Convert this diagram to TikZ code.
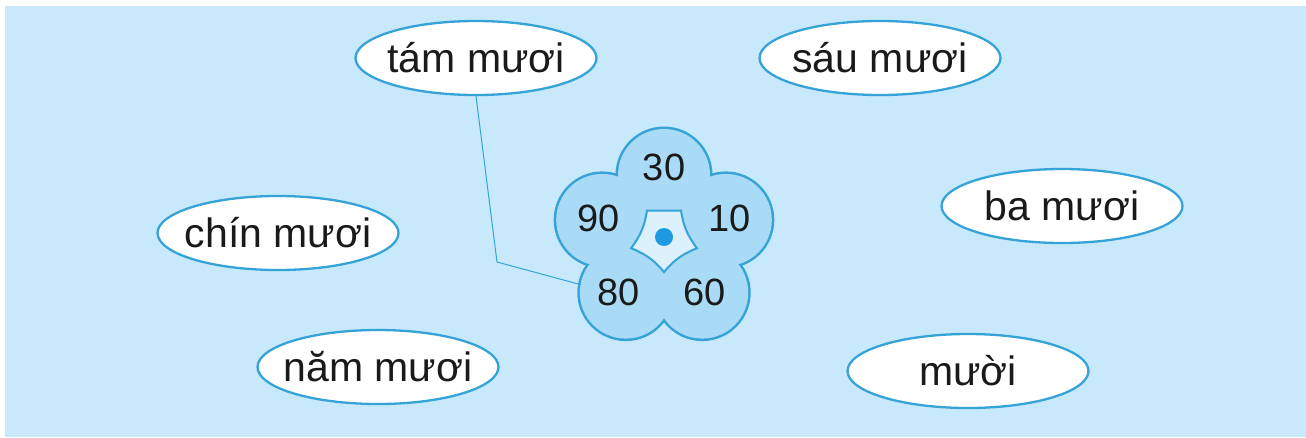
\documentclass[tikz,border=0pt]{standalone}
\usepackage{fontspec}
\setmainfont{Liberation Sans}
\usetikzlibrary{shapes.geometric}
\definecolor{bgblue}{HTML}{C8E9FB}
\definecolor{lineblue}{HTML}{35A3D8}
\definecolor{petalfill}{HTML}{AADBF6}
\definecolor{innerfill}{HTML}{DDF1FC}
\definecolor{dotblue}{HTML}{1E9BE0}
\definecolor{txt}{HTML}{1A1A1A}
\newcommand{\zw}[1]{\makebox[0pt]{#1}}
\tikzset{
  ellip/.style={ellipse, draw=lineblue, line width=2.3pt, fill=white,
    minimum width=241pt, minimum height=74pt, inner sep=0pt,
    font=\fontsize{41}{44}\selectfont, text=txt},
  petal/.style={circle, minimum size=92pt, inner sep=0pt},
  numtxt/.style={font=\fontsize{38}{42}\selectfont, text=txt},
  conn/.style={draw=lineblue, line width=1pt}
}
\begin{document}
\begin{tikzpicture}[x=1pt,y=-1pt]
\useasboundingbox (0,0) rectangle (1306,437);
\fill[bgblue] (5,6) rectangle (1306,437);

% ellipses
\node[ellip] (tam) at (476,58) {\zw{tám mươi}};
\node[ellip] (sau) at (880,58) {\zw{sáu mươi}};
\node[ellip] (chin) at (278,233) {\zw{chín mươi}};
\node[ellip] (ba) at (1062,206) {\zw{ba mươi}};
\node[ellip] (nam) at (378,367) {\zw{năm mươi}};
\node[ellip] (muoi) at (968,371) {\zw{mười}};

% flower
\coordinate (fc) at (664,240);
\foreach \n/\a in {p30/90,p10/18,p60/-54,p80/-126,p90/162}{
  \node[petal] (\n) at ([shift={(\a:65pt)}]fc) {};
}
\foreach \n in {p30,p10,p60,p80,p90}{
  \draw[lineblue, line width=5pt] (\n.center) circle (46pt);
}
\foreach \n in {p30,p10,p60,p80,p90}{
  \fill[petalfill] (\n.center) circle (46pt);
}
\fill[petalfill] (fc) circle (56pt);

% inner concave pentagon
\draw[lineblue, line width=2pt, fill=innerfill, line join=miter]
  ([shift={(120:34pt)}]fc) -- ([shift={(60:34pt)}]fc)
  to[bend right=14] ([shift={(-14:34pt)}]fc)
  to[bend right=14] ([shift={(-90:32pt)}]fc)
  to[bend right=14] ([shift={(194:34pt)}]fc)
  to[bend right=14] cycle;
\fill[dotblue] (fc) ++(0,-3) circle (9pt);

% numbers
\node[numtxt] (t30) at ([shift={(0,-8)}]p30) {30};
\node[numtxt] (t10) at ([shift={(4,-2)}]p10) {10};
\node[numtxt] (t60) at ([shift={(2,0)}]p60) {60};
\node[numtxt] (t80) at ([shift={(-7,0)}]p80) {80};
\node[numtxt] (t90) at ([shift={(-4,-2)}]p90) {90};

% connector
\coordinate (bend) at (497,262);
\draw[conn] (tam.south) -- (bend) -- (p80.170);
\end{tikzpicture}
\end{document}
